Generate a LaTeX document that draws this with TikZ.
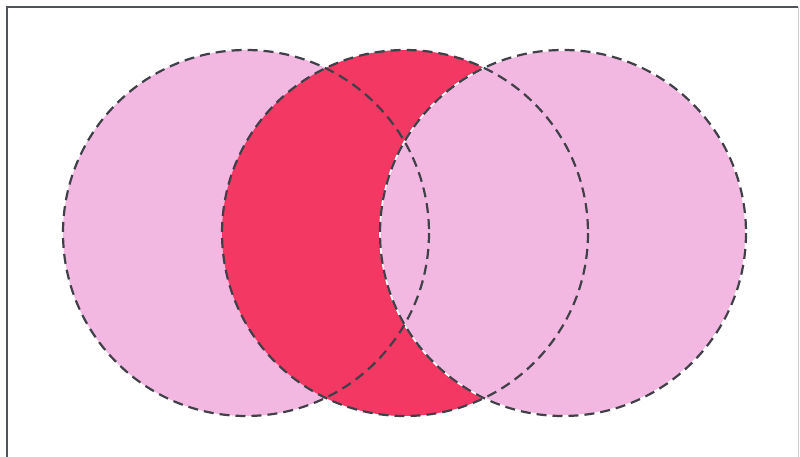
\documentclass[tikz,border=0pt]{standalone}
\definecolor{lightpink}{RGB}{243,184,226}
\definecolor{deepred}{RGB}{244,56,100}
\definecolor{dashgray}{RGB}{64,64,72}
\definecolor{framegray}{RGB}{80,84,90}
\tikzset{
  circedge/.style={draw=dashgray, line width=2.2pt, dash pattern=on 10pt off 6pt},
}
\begin{document}
\begin{tikzpicture}[x=1pt,y=-1pt]
\useasboundingbox (0,0) rectangle (800,457);
\fill[white] (0,0) rectangle (800,457);
\coordinate (L) at (246,233);
\coordinate (M) at (405,233);
\coordinate (R) at (563,233);
% light fills
\fill[lightpink] (L) circle[radius=183];
\fill[lightpink] (M) circle[radius=183];
\fill[lightpink] (R) circle[radius=183];
% red region: middle minus right
\begin{scope}[even odd rule]
  \clip (M) circle[radius=183];
  \clip (R) circle[radius=183] (0,0) rectangle (800,457);
  \fill[deepred] (M) circle[radius=183];
\end{scope}
% white hairline along right circle
\draw[white, line width=1.6pt] (R) circle[radius=183];
% dashed outlines
\draw[circedge] (L) circle[radius=183];
\draw[circedge] (M) circle[radius=183];
\draw[circedge] (R) circle[radius=183];
% frame
\draw[framegray, line width=1.6pt] (7,457) -- (7,7) -- (798,7);
\draw[gray!40, line width=0.8pt] (798,7) -- (798,457);
\end{tikzpicture}
\end{document}
